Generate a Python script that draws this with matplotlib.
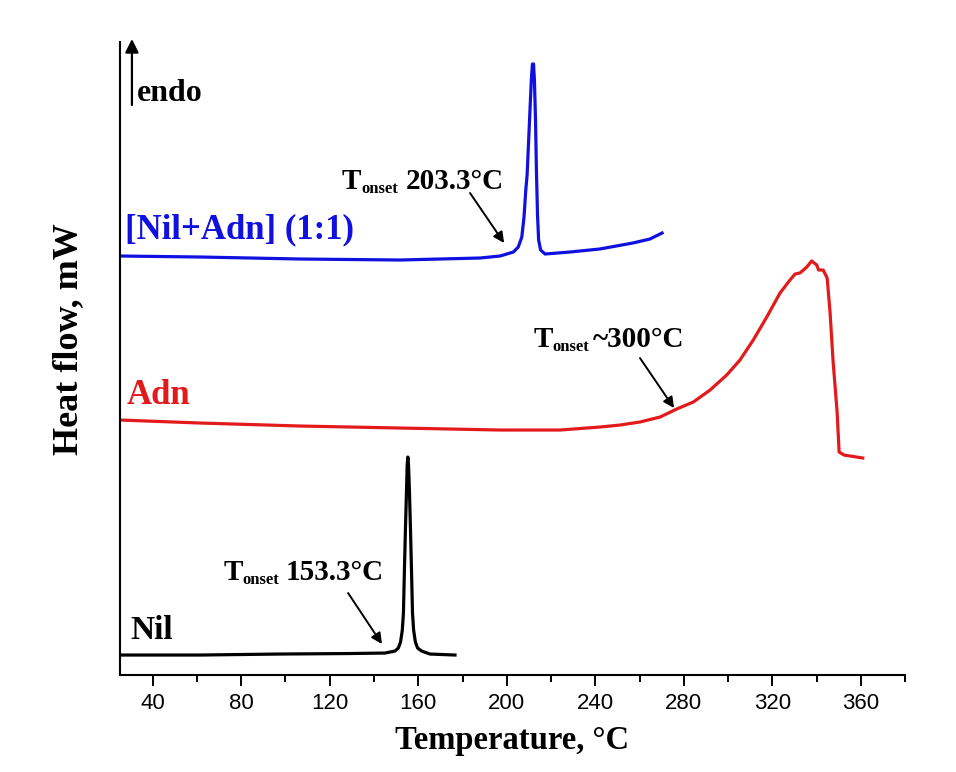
import matplotlib.pyplot as plt
from matplotlib.ticker import MultipleLocator

# curves (temperature in degC, heat flow in arbitrary mW offsets)
nil_t = [25.2, 61.4, 97.5, 129.2, 145.0, 149.5, 151.0, 152.0, 152.8, 153.3, 153.7,
         154.2, 154.7, 155.0, 155.3, 155.6, 156.0, 156.5, 157.0, 157.4, 157.9,
         158.7, 159.7, 161.5, 165.3, 176.6]
nil_q = [0.20, 0.20, 0.21, 0.215, 0.22, 0.24, 0.27, 0.33, 0.45, 0.62, 1.0,
         1.45, 1.85, 2.10, 2.18, 2.10, 1.85, 1.45, 1.0, 0.62, 0.45,
         0.33, 0.27, 0.24, 0.21, 0.20]

adn_t = [25.2, 61.4, 106.6, 151.8, 197.0, 224.1, 242.2, 251.2, 260.2, 269.3, 276.8,
         284.3, 291.9, 299.4, 305.4, 311.4, 317.5, 323.5, 328.0, 330.3, 332.5,
         335.6, 337.8, 340.1, 340.9, 343.0, 344.8, 346.1, 347.5, 349.3, 350.2,
         352.4, 360.9]
adn_q = [2.55, 2.52, 2.49, 2.47, 2.45, 2.45, 2.48, 2.50, 2.53, 2.58, 2.66,
         2.73, 2.85, 3.00, 3.15, 3.35, 3.58, 3.82, 3.95, 4.01, 4.02,
         4.08, 4.14, 4.10, 4.05, 4.05, 3.97, 3.63, 3.13, 2.63, 2.23,
         2.20, 2.17]

mix_t = [25.2, 61.4, 106.6, 151.8, 187.9, 197.0, 203.0, 205.2, 206.8, 207.8, 208.6,
         209.2, 209.8, 210.5, 211.1, 211.6, 212.1, 212.5, 213.0, 213.4, 213.9,
         214.4, 215.3, 217.3, 228.6, 242.0, 257.0, 264.7, 270.2]
mix_q = [4.19, 4.18, 4.16, 4.15, 4.17, 4.19, 4.23, 4.28, 4.38, 4.58, 4.85,
         5.00, 5.30, 5.65, 5.95, 6.11, 6.11, 5.95, 5.55, 5.05, 4.60,
         4.35, 4.25, 4.21, 4.23, 4.26, 4.32, 4.36, 4.42]

xticks = [40, 80, 120, 160, 200, 240, 280, 320, 360]

serif = 'Liberation Serif'
blue = '#1010e0'
red = '#e31a1c'

fig = plt.figure(figsize=(9.56, 7.72), dpi=100)
ax = fig.add_axes([0.1255, 0.1256, 0.8212, 0.82])

ax.plot(nil_t, nil_q, color='black', lw=2.3)
ax.plot(adn_t, adn_q, color=red, lw=2.3)
ax.plot(mix_t, mix_q, color=blue, lw=2.3)

ax.set_xlim(25.2, 380)
ax.set_ylim(0, 6.33)
ax.set_xticks(xticks)
ax.xaxis.set_minor_locator(MultipleLocator(20))
ax.set_yticks([])
ax.tick_params(axis='x', which='major', length=8, width=1.4, pad=5, labelsize=16)
ax.tick_params(axis='x', which='minor', length=5, width=1.4)
for lab in ax.get_xticklabels():
    lab.set_family('Liberation Sans')
for side in ['top', 'right']:
    ax.spines[side].set_visible(False)
for side in ['left', 'bottom']:
    ax.spines[side].set_linewidth(1.5)

ax.set_xlabel('Temperature, °C', family=serif, weight='bold', fontsize=23.5, labelpad=8)
ax.set_ylabel('Heat flow, mW', family=serif, weight='bold', fontsize=26)
ax.yaxis.set_label_coords(-0.044, 0.53)

# series labels
ax.text(27.5, 4.45, '[Nil+Adn] (1:1)', color=blue, family=serif, weight='bold',
        fontsize=25, va='center')
ax.text(28.4, 2.80, 'Adn', color=red, family=serif, weight='bold',
        fontsize=25, va='center')
ax.text(29.7, 0.45, 'Nil', color='black', family=serif, weight='bold',
        fontsize=24, va='center')


def onset_label(x, y, value, gap):
    style = dict(family=serif, weight='bold', va='baseline', textcoords='offset points')
    ax.annotate('T', (x, y), xytext=(0, 0), fontsize=21, **style)
    ax.annotate('onset', (x, y), xytext=(14, -3), fontsize=12, **style)
    ax.annotate(value, (x, y), xytext=(gap, 0), fontsize=21, **style)


# onset annotations
arrow = dict(arrowstyle='-|>', color='black', lw=1.4, mutation_scale=16, shrinkA=0, shrinkB=0)
onset_label(125.5, 4.86, '203.3°C', 46)
ax.annotate('', xy=(198.8, 4.32), xytext=(183.4, 4.82), arrowprops=arrow)
onset_label(212.0, 3.28, '~300°C', 43)
ax.annotate('', xy=(275.6, 2.67), xytext=(260.2, 3.17), arrowprops=arrow)
onset_label(71.9, 0.95, '153.3°C', 45)
ax.annotate('', xy=(143.6, 0.31), xytext=(128.3, 0.82), arrowprops=arrow)

# endo arrow
ax.annotate('', xy=(30.6, 6.36), xytext=(30.6, 5.70), annotation_clip=False,
            arrowprops=dict(arrowstyle='-|>', color='black', lw=1.6, mutation_scale=20,
                            shrinkA=0, shrinkB=0))
ax.text(32.8, 5.82, 'endo', family=serif, weight='bold', fontsize=23, va='center')

plt.savefig('out.png', dpi=100)
